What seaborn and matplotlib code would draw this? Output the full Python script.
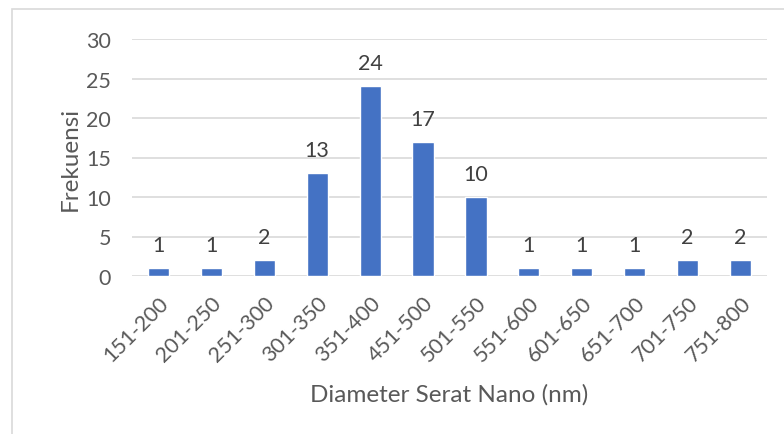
import matplotlib
matplotlib.use("Agg")
import matplotlib.pyplot as plt
import seaborn as sns
import pandas as pd
from matplotlib.patches import Rectangle

ranges = ["151-200", "201-250", "251-300", "301-350", "351-400", "451-500",
          "501-550", "551-600", "601-650", "651-700", "701-750", "751-800"]
counts = [1, 1, 2, 13, 24, 17, 10, 1, 1, 1, 2, 2]
y_ticks = [0, 5, 10, 15, 20, 25, 30]

df = pd.DataFrame({"range": ranges, "count": counts})

sns.set_theme(style="white")
plt.rcParams["font.family"] = ["Lato", "DejaVu Sans"]
text_color = "#595959"

fig = plt.figure(figsize=(7.84, 4.35), dpi=100)
ax = fig.add_axes([132 / 784, 1 - 277 / 435, (767 - 132) / 784, (277 - 40) / 435])

sns.barplot(data=df, x="range", y="count", color="#4472C4", width=0.4,
            saturation=1, ax=ax, zorder=3)

ax.set_ylim(0, 30)
ax.set_yticks(y_ticks)
ax.set_xlim(-0.5, len(ranges) - 0.5)
for t in y_ticks:
    ax.axhline(t, color="#D9D9D9", lw=1.2, zorder=1)

for spine in ax.spines.values():
    spine.set_visible(False)
ax.tick_params(axis="both", length=0, labelsize=15.5, colors=text_color)
ax.tick_params(axis="y", pad=15)
ax.tick_params(axis="x", pad=12)
for lab in ax.get_xticklabels():
    lab.set_rotation(45)
    lab.set_ha("right")
    lab.set_rotation_mode("anchor")

# value labels above each bar
for i, v in enumerate(counts):
    ax.annotate(str(v), (i, v), xytext=(0, 9.5), textcoords="offset points",
                ha="center", va="bottom", fontsize=15.5, color="#404040")

ax.set_xlabel("Diameter Serat Nano (nm)", fontsize=17.5, color=text_color, labelpad=13)
ax.set_ylabel("Frekuensi", fontsize=17.5, color=text_color, labelpad=4)

fig.patches.append(Rectangle((12 / 784, -0.1), 1.2, 1 - 10 / 435 + 0.1,
                             transform=fig.transFigure, fill=False,
                             edgecolor="#D9D9D9", lw=1.2))

fig.savefig("out.png", dpi=100)
